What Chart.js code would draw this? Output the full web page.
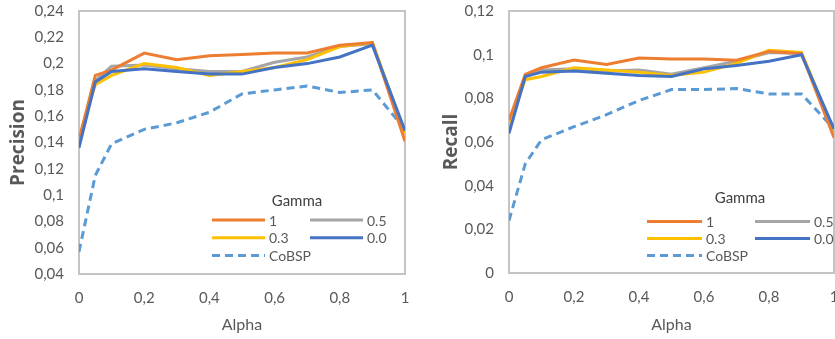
<!DOCTYPE html>
<html>
<head>
<meta charset="utf-8">
<script src="https://cdn.jsdelivr.net/npm/chart.js@4"></script>
<style>
  html, body { margin: 0; padding: 0; background: #fff; }
  body { width: 835px; height: 339px; overflow: hidden; position: relative; }
  #left { position: absolute; left: 0; top: 0; }
  #right { position: absolute; left: 415px; top: 0; }
</style>
</head>
<body>
<canvas id="left" width="415" height="339"></canvas>
<canvas id="right" width="430" height="339"></canvas>
<script>
// x values (Alpha)
const alpha = [0, 0.05, 0.1, 0.2, 0.3, 0.4, 0.5, 0.6, 0.7, 0.8, 0.9, 1];

// Precision per gamma
const precG1    = [0.142, 0.191, 0.195, 0.208, 0.203, 0.206, 0.207, 0.208, 0.208, 0.214, 0.216, 0.141];
const precG05   = [0.140, 0.187, 0.198, 0.199, 0.196, 0.194, 0.194, 0.201, 0.205, 0.213, 0.215, 0.147];
const precG03   = [0.143, 0.184, 0.191, 0.200, 0.197, 0.191, 0.194, 0.197, 0.203, 0.213, 0.216, 0.147];
const precG0    = [0.136, 0.186, 0.194, 0.196, 0.194, 0.192, 0.192, 0.197, 0.200, 0.205, 0.214, 0.149];
const precCoBSP = [0.057, 0.115, 0.139, 0.150, 0.155, 0.163, 0.177, 0.180, 0.183, 0.178, 0.180, 0.150];

// Recall per gamma
const recG1    = [0.070, 0.091, 0.094, 0.0975, 0.0955, 0.0985, 0.098, 0.098, 0.0975, 0.1015, 0.1005, 0.062];
const recG05   = [0.066, 0.090, 0.093, 0.0935, 0.0925, 0.093, 0.091, 0.094, 0.097, 0.101, 0.1005, 0.065];
const recG03   = [0.068, 0.0885, 0.090, 0.094, 0.093, 0.092, 0.0905, 0.092, 0.096, 0.102, 0.101, 0.065];
const recG0    = [0.064, 0.090, 0.092, 0.0925, 0.0915, 0.0905, 0.090, 0.0935, 0.095, 0.097, 0.100, 0.066];
const recCoBSP = [0.024, 0.050, 0.061, 0.067, 0.0725, 0.079, 0.084, 0.084, 0.0845, 0.082, 0.082, 0.066];

const seriesLabels = ['1', '0.5', '0.3', '0.0', 'CoBSP'];
const legendTitle = 'Gamma';

// axis ranges
const precRange = [0.04, 0.24, 0.02];
const recRange = [0, 0.12, 0.02];
const alphaRange = [0, 1, 0.2];

const colors = ['#ED7D31', '#A5A5A5', '#FFC000', '#4472C4', '#5B9BD5'];
const drawOrder = [1, 3, 2, 0, 4];

const TXT = '#595959';
const FONT = 'Lato, "Open Sans", sans-serif';

const fmt = v => String(Number(v.toFixed(2))).replace('.', ',');

const makeSets = series => series.map((vals, i) => ({
  label: seriesLabels[i],
  data: alpha.map((a, j) => ({ x: a, y: vals[j] })),
  borderColor: colors[i],
  backgroundColor: colors[i],
  borderWidth: 3,
  borderDash: i === 4 ? [8, 5] : [],
  pointRadius: 0,
  tension: 0,
  order: drawOrder[i]
}));

// box round plot area
const frame = {
  id: 'frame',
  beforeDatasetsDraw(chart) {
    const { ctx, chartArea: a } = chart;
    ctx.save();
    ctx.strokeStyle = '#C4C4C4';
    ctx.lineWidth = 2;
    ctx.strokeRect(a.left, a.top, a.right - a.left, a.bottom - a.top);
    ctx.restore();
  }
};

// excel-like legend, two columns, with title
const gammaLegend = {
  id: 'gammaLegend',
  afterDatasetsDraw(chart, args, o) {
    const { ctx, chartArea: a } = chart;
    const x0 = a.right - o.fromRight;
    const y0 = a.bottom - o.fromBottom;
    ctx.save();
    ctx.textBaseline = 'middle';
    ctx.font = '15px ' + FONT;
    ctx.fillStyle = '#404040';
    ctx.textAlign = 'center';
    ctx.fillText(legendTitle, x0 + o.titleDx, y0);
    ctx.textAlign = 'left';
    ctx.font = '14px ' + FONT;
    chart.data.datasets.forEach((ds, i) => {
      const lx = x0 + (i % 2) * o.colW;
      const ly = y0 + o.firstRow + Math.floor(i / 2) * o.rowH;
      ctx.strokeStyle = ds.borderColor;
      ctx.lineWidth = 3;
      ctx.setLineDash(ds.borderDash);
      ctx.beginPath();
      ctx.moveTo(lx, ly);
      ctx.lineTo(lx + o.lineW, ly);
      ctx.stroke();
      ctx.fillStyle = TXT;
      ctx.fillText(ds.label, lx + o.lineW + 4, ly + 1);
    });
    ctx.restore();
  }
};

function makeChart(id, series, yRange, yTitle, lay) {
  return new Chart(document.getElementById(id), {
    type: 'line',
    data: { datasets: makeSets(series) },
    options: {
      responsive: false,
      animation: false,
      layout: { padding: lay.padding },
      plugins: {
        legend: { display: false },
        tooltip: { enabled: false },
        gammaLegend: lay.legend
      },
      scales: {
        x: {
          type: 'linear',
          min: alphaRange[0], max: alphaRange[1],
          grid: { display: false, drawTicks: false },
          border: { display: false },
          ticks: { stepSize: alphaRange[2], padding: 15, color: TXT, font: { family: FONT, size: 15 }, callback: fmt },
          title: { display: true, text: 'Alpha', color: TXT, font: { family: FONT, size: 16 }, padding: 0 },
          afterFit: s => { s.height = lay.xH; s.paddingLeft = 0; s.paddingRight = 0; }
        },
        y: {
          min: yRange[0], max: yRange[1],
          grid: { display: false, drawTicks: false },
          border: { display: false },
          ticks: { stepSize: yRange[2], padding: 15, color: TXT, font: { family: FONT, size: 15 }, callback: fmt },
          title: { display: true, text: yTitle, color: TXT, font: { family: '"Open Sans", sans-serif', size: 19, weight: 'bold' }, padding: 0 },
          afterFit: s => { s.width = lay.yW; s.paddingTop = 0; s.paddingBottom = 0; }
        }
      }
    },
    plugins: [frame, gammaLegend]
  });
}

makeChart('left', [precG1, precG05, precG03, precG0, precCoBSP], precRange, 'Precision', {
  padding: { top: 11, right: 10, left: 7, bottom: 5 },
  yW: 72, xH: 60,
  legend: { fromRight: 193, fromBottom: 73, titleDx: 85, firstRow: 19, rowH: 17.7, colW: 98, lineW: 53 }
});

makeChart('right', [recG1, recG05, recG03, recG0, recCoBSP], recRange, 'Recall', {
  padding: { top: 11, right: 11, left: 25, bottom: 5 },
  yW: 69, xH: 61,
  legend: { fromRight: 187, fromBottom: 75, titleDx: 93, firstRow: 23.5, rowH: 17, colW: 108, lineW: 55 }
});
</script>
</body>
</html>
